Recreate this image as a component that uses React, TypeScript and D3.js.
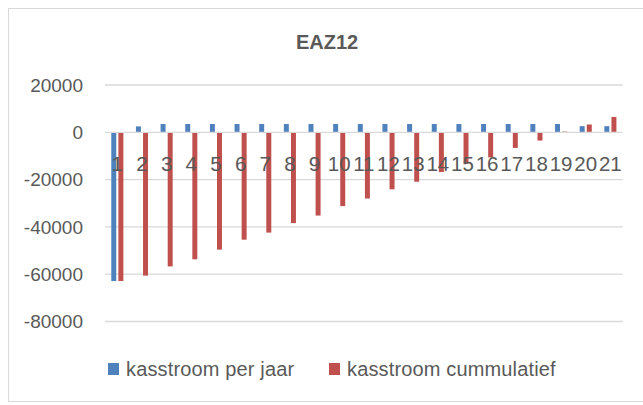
import React, { useEffect, useRef } from "react";
import * as d3 from "d3";

const title = "EAZ12";
const years = ["1", "2", "3", "4", "5", "6", "7", "8", "9", "10", "11", "12", "13", "14", "15", "16", "17", "18", "19", "20", "21"];
const perJaar = [-62900, 2500, 3500, 3500, 3500, 3500, 3500, 3500, 3500, 3500, 3500, 3500, 3500, 3500, 3500, 3500, 3500, 3500, 3500, 2600, 2600];
const cumulatief = [-62900, -60600, -56700, -53700, -49600, -45400, -42400, -38400, -35200, -31200, -28000, -24100, -20900, -16800, -13300, -10600, -6600, -3500, 300, 3300, 6500];
const seriesNames = ["kasstroom per jaar", "kasstroom cummulatief"];
const seriesColors = ["#4f81bd", "#c0504d"];
const yTicks = [20000, 0, -20000, -40000, -60000, -80000];

const W = 643;
const H = 405;
const FONT = "'Liberation Sans', Arial, sans-serif";

export default function App() {
  const ref = useRef<SVGSVGElement>(null);

  useEffect(() => {
    const svg = d3.select(ref.current);
    svg.selectAll("*").remove();

    const left = 105, right = 622.7, top = 85, bottom = 321.5;

    const x = d3.scaleBand().domain(years).range([left, right]).paddingInner(0.51).paddingOuter(0.255);
    const x1 = d3.scaleBand().domain(seriesNames).range([0, x.bandwidth()]).paddingInner(0.3);
    const y = d3.scaleLinear().domain([-80000, 20000]).range([bottom, top]);

    // chart frame
    svg.append("rect")
      .attr("x", 8.5).attr("y", 8.5)
      .attr("width", 640).attr("height", 393)
      .attr("fill", "#fff").attr("stroke", "#d9d9d9");

    svg.append("text")
      .attr("x", 327).attr("y", 49)
      .attr("text-anchor", "middle")
      .attr("font-family", FONT).attr("font-weight", "bold").attr("font-size", 20)
      .attr("fill", "#595959")
      .text(title);

    // gridlines
    svg.append("g").selectAll("line")
      .data(yTicks.filter(t => t !== 0))
      .enter().append("line")
      .attr("x1", left).attr("x2", right)
      .attr("y1", d => y(d)).attr("y2", d => y(d))
      .attr("stroke", "#d9d9d9").attr("stroke-width", 1.3);

    svg.append("g").selectAll("text")
      .data(yTicks)
      .enter().append("text")
      .attr("x", 83).attr("y", d => y(d))
      .attr("dy", "0.36em")
      .attr("text-anchor", "end")
      .attr("font-family", FONT).attr("font-size", 19)
      .attr("fill", "#595959")
      .text(d => String(d));

    const series = [perJaar, cumulatief];
    series.forEach((vals, si) => {
      svg.append("g").selectAll("rect")
        .data(vals)
        .enter().append("rect")
        .attr("x", (d, i) => (x(years[i]) as number) + (x1(seriesNames[si]) as number))
        .attr("width", x1.bandwidth())
        .attr("y", d => y(Math.max(0, d)))
        .attr("height", d => Math.abs(y(d) - y(0)))
        .attr("fill", seriesColors[si]);
    });

    // zero axis line on top of bars
    svg.append("line")
      .attr("x1", left).attr("x2", right)
      .attr("y1", y(0)).attr("y2", y(0))
      .attr("stroke", "#d9d9d9").attr("stroke-width", 1.3);

    svg.append("g").selectAll("text")
      .data(years)
      .enter().append("text")
      .attr("x", d => (x(d) as number) + x.bandwidth() / 2)
      .attr("y", 171)
      .attr("text-anchor", "middle")
      .attr("font-family", FONT).attr("font-size", 20.5)
      .attr("fill", "#595959")
      .text(d => d);

    // legend
    const legendX = [108, 329];
    const lg = svg.append("g").selectAll("g")
      .data(seriesNames)
      .enter().append("g")
      .attr("transform", (d, i) => `translate(${legendX[i]},363)`);
    lg.append("rect")
      .attr("width", 11).attr("height", 12)
      .attr("fill", (d, i) => seriesColors[i]);
    lg.append("text")
      .attr("x", 18).attr("y", 12.5)
      .attr("font-family", FONT).attr("font-size", 20)
      .attr("letter-spacing", 0.15)
      .attr("fill", "#595959")
      .text(d => d);
  }, []);

  return (
    <svg ref={ref} width={W} height={H} style={{ position: "absolute", left: 0, top: 0 }} />
  );
}
